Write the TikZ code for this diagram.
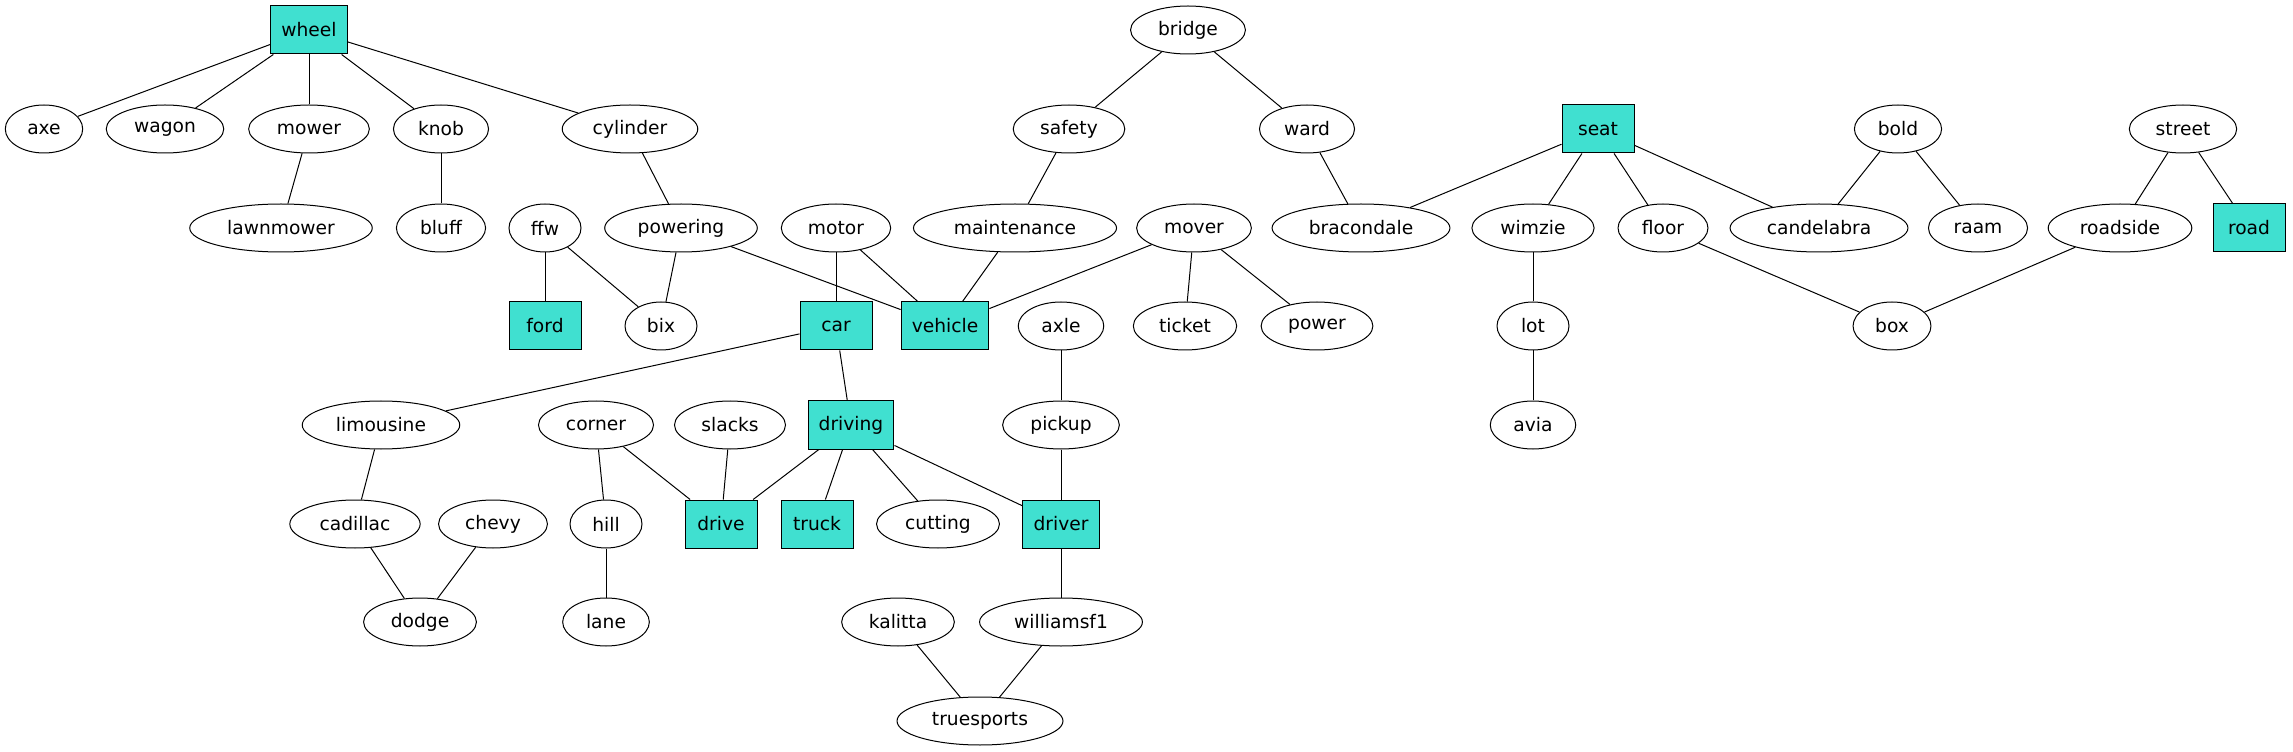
\documentclass[tikz,border=0pt]{standalone}
\usepackage{fontspec}
\setmainfont{DejaVu Sans}
\usepackage{tikz}
\usetikzlibrary{shapes.geometric}

\definecolor{turq}{HTML}{40E0D0}

\tikzset{
    word/.style={ellipse, draw, fill=white, line width=0.75pt, inner xsep=8pt,
        minimum width=54pt, minimum height=36pt, font=\fontsize{14}{16.8}\selectfont},
    keyword/.style={rectangle, draw, fill=turq, line width=0.75pt, inner xsep=8pt,
        minimum width=54pt, minimum height=36pt, font=\fontsize{14}{16.8}\selectfont},
    link/.style={line width=0.75pt}
}

\begin{document}
\begin{tikzpicture}[x=0.75pt, y=-0.75pt]
        \useasboundingbox (0,0) rectangle (2293,752);

        % top rank
        \node (wheel) at (309,30) [keyword] {wheel};
        \node (bridge) at (1188,30) [word] {bridge};

        \node (axe) at (44,129) [word] {axe};
        \node (wagon) at (165,129) [word] {wagon};
        \node (mower) at (309,129) [word] {mower};
        \node (knob) at (441,129) [word] {knob};
        \node (cylinder) at (630,129) [word] {cylinder};
        \node (safety) at (1069,129) [word] {safety};
        \node (ward) at (1307,129) [word] {ward};
        \node (seat) at (1598,129) [keyword] {seat};
        \node (bold) at (1898,129) [word] {bold};
        \node (street) at (2183,129) [word] {street};

        \node (lawnmower) at (281,228) [word] {lawnmower};
        \node (bluff) at (441,228) [word] {bluff};
        \node (ffw) at (545,228) [word] {ffw};
        \node (powering) at (681,228) [word] {powering};
        \node (motor) at (836,228) [word] {motor};
        \node (maintenance) at (1015,228) [word] {maintenance};
        \node (mover) at (1194,228) [word] {mover};
        \node (bracondale) at (1361,228) [word] {bracondale};
        \node (wimzie) at (1533,228) [word] {wimzie};
        \node (floor) at (1663,228) [word] {floor};
        \node (candelabra) at (1819,228) [word] {candelabra};
        \node (raam) at (1978,228) [word] {raam};
        \node (roadside) at (2120,228) [word] {roadside};
        \node (road) at (2249,228) [keyword] {road};

        \node (ford) at (545,326) [keyword] {ford};
        \node (bix) at (661,326) [word] {bix};
        \node (car) at (836,326) [keyword] {car};
        \node (vehicle) at (945,326) [keyword] {vehicle};
        \node (axle) at (1061,326) [word] {axle};
        \node (ticket) at (1185,326) [word] {ticket};
        \node (power) at (1317,326) [word] {power};
        \node (lot) at (1533,326) [word] {lot};
        \node (box) at (1892,326) [word] {box};

        \node (limousine) at (381,425) [word] {limousine};
        \node (corner) at (596,425) [word] {corner};
        \node (slacks) at (730,425) [word] {slacks};
        \node (driving) at (851,425) [keyword] {driving};
        \node (pickup) at (1061,425) [word] {pickup};
        \node (avia) at (1533,425) [word] {avia};

        \node (cadillac) at (355,524) [word] {cadillac};
        \node (chevy) at (493,524) [word] {chevy};
        \node (hill) at (606,524) [word] {hill};
        \node (drive) at (721,524) [keyword] {drive};
        \node (truck) at (817,524) [keyword] {truck};
        \node (cutting) at (938,524) [word] {cutting};
        \node (driver) at (1061,524) [keyword] {driver};

        \node (dodge) at (420,622) [word] {dodge};
        \node (lane) at (606,622) [word] {lane};
        \node (kalitta) at (898,622) [word] {kalitta};
        \node (williamsf1) at (1061,622) [word] {williamsf1};

        \node (truesports) at (980,721) [word] {truesports};

        % edges
        \foreach \a/\b in {wheel/axe, wheel/wagon, wheel/mower, wheel/knob, wheel/cylinder,
                mower/lawnmower, knob/bluff, cylinder/powering,
                bridge/safety, bridge/ward, safety/maintenance, ward/bracondale,
                seat/bracondale, seat/wimzie, seat/floor, seat/candelabra,
                bold/candelabra, bold/raam, street/roadside, street/road,
                ffw/ford, ffw/bix, powering/bix, powering/vehicle,
                motor/car, motor/vehicle, maintenance/vehicle,
                mover/vehicle, mover/ticket, mover/power,
                wimzie/lot, floor/box, roadside/box, lot/avia,
                car/limousine, car/driving, axle/pickup, limousine/cadillac,
                corner/hill, corner/drive, slacks/drive,
                driving/drive, driving/truck, driving/cutting, driving/driver,
                pickup/driver, cadillac/dodge, chevy/dodge, hill/lane,
                driver/williamsf1, kalitta/truesports, williamsf1/truesports}
            \draw[link] (\a) -- (\b);
    \end{tikzpicture}
\end{document}
